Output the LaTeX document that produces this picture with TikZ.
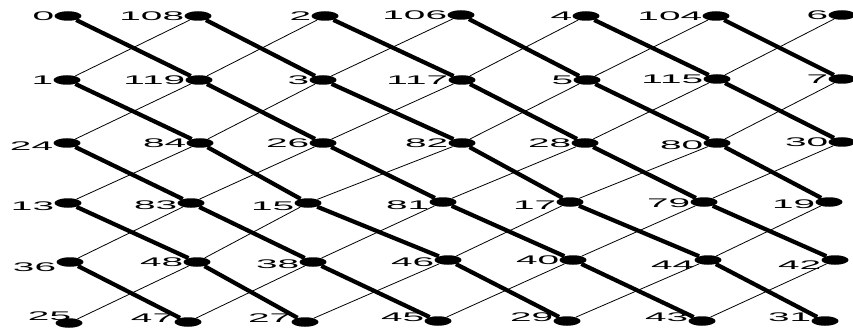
\documentclass[tikz,border=0pt]{standalone}
\usepackage{fontspec}
\usepackage{tikz}
\usetikzlibrary{shapes.geometric}
\newfontfamily\lblfont[FakeStretch=3.1]{Liberation Sans}
\tikzset{
  dot/.style      = {ellipse, fill=black, inner sep=0pt,
                     minimum width=27pt, minimum height=9.5pt, label distance=4pt},
  every label/.style = {font=\lblfont\fontsize{12.5}{13}\selectfont, inner sep=0pt},
  lowlbl/.style   = {label={[yshift=4pt]left:#1}},
  heavy/.style    = {line width=4.2pt},
  light/.style    = {line width=0.8pt}
}

\begin{document}
\begin{tikzpicture}[x=1pt,y=-1pt]
\useasboundingbox (0,0) rectangle (853,331);

% --- row 0 ---------------------------------------------------------------
\node[dot, label=left:0]   (n0)   at (68,16)  {};
\node[dot, label=left:108] (n108) at (198,16) {};
\node[dot, label=left:2]   (n2)   at (325,16) {};
\node[dot, label=left:106] (n106) at (461,15) {};
\node[dot, label=left:4]   (n4)   at (586,16) {};
\node[dot, label=left:104] (n104) at (716,16) {};
\node[dot, label=left:6]   (n6)   at (842,15) {};

% --- row 1 ---------------------------------------------------------------
\node[dot, label=left:1]   (n1)   at (67,80)  {};
\node[dot, label=left:119] (n119) at (199,80) {};
\node[dot, label=left:3]   (n3)   at (323,80) {};
\node[dot, label=left:117] (n117) at (462,80) {};
\node[dot, label=left:5]   (n5)   at (587,80) {};
\node[dot, label=left:115] (n115) at (717,79) {};
\node[dot, label=left:7]   (n7)   at (842,79) {};

% --- row 2 ---------------------------------------------------------------
\node[dot, label={[yshift=-3pt]left:24}] (n24) at (67,143) {};
\node[dot, label=left:84]  (n84)  at (200,143) {};
\node[dot, label=left:26]  (n26)  at (323,143) {};
\node[dot, label=left:82]  (n82)  at (462,143) {};
\node[dot, label=left:28]  (n28)  at (585,143) {};
\node[dot, label={[yshift=-2pt]left:80}] (n80) at (717,143) {};
\node[dot, label=left:30]  (n30)  at (842,142) {};

% --- row 3 ---------------------------------------------------------------
\node[dot, label={[yshift=-3pt]left:13}] (n13) at (68,203)  {};
\node[dot, label={[yshift=-2pt]left:83}] (n83) at (191,203) {};
\node[dot, label={[yshift=-3pt]left:15}] (n15) at (308,203) {};
\node[dot, label={[yshift=-3pt]left:81}] (n81) at (443,202) {};
\node[dot, label={[yshift=-3pt]left:17}] (n17) at (570,202) {};
\node[dot, label={[yshift=-1pt]left:79}] (n79) at (704,202) {};
\node[dot, label={[yshift=-2pt]left:19}] (n19) at (829,202) {};

% --- row 4 ---------------------------------------------------------------
\node[dot, label={[yshift=-5pt]left:36}] (n36) at (70,262)  {};
\node[dot, label=left:48]  (n48)  at (197,262) {};
\node[dot, label={[yshift=-2pt]left:38}] (n38) at (313,262) {};
\node[dot, label={[yshift=-2pt]left:46}] (n46) at (448,260) {};
\node[dot, label=left:40]  (n40)  at (573,260) {};
\node[dot, label={[yshift=-5pt]left:44}] (n44) at (708,260) {};
\node[dot, label={[yshift=-5pt]left:42}] (n42) at (835,260) {};

% --- row 5 ---------------------------------------------------------------
\node[dot, label={[xshift=16pt,yshift=7pt]left:25}] (n25) at (69,323) {};
\node[dot, lowlbl=47] (n47) at (188,322) {};
\node[dot, lowlbl=27] (n27) at (305,322) {};
\node[dot, lowlbl=45] (n45) at (438,321) {};
\node[dot, lowlbl=29] (n29) at (567,321) {};
\node[dot, lowlbl=43] (n43) at (702,321) {};
\node[dot, lowlbl=31] (n31) at (825,321) {};

% --- heavy diagonals, falling to the right --------------------------------
\draw[heavy] (n0) -- (n119) -- (n26) -- (n81) -- (n40) -- (n43);
\draw[heavy] (n108) -- (n3) -- (n82) -- (n17) -- (n44) -- (n31);
\draw[heavy] (n2) -- (n117) -- (n28) -- (n79) -- (n42);
\draw[heavy] (n106) -- (n5) -- (n80) -- (n19);
\draw[heavy] (n4) -- (n115) -- (n30);
\draw[heavy] (n104) -- (n7);
\draw[heavy] (n1) -- (n84) -- (n15) -- (n46) -- (n29);
\draw[heavy] (n24) -- (n83) -- (n38) -- (n45);
\draw[heavy] (n13) -- (n48) -- (n27);
\draw[heavy] (n36) -- (n47);

% --- light diagonals, rising to the right ---------------------------------
\draw[light] (n1) -- (n108);
\draw[light] (n24) -- (n119) -- (n2);
\draw[light] (n13) -- (n84) -- (n3) -- (n106);
\draw[light] (n36) -- (n83) -- (n26) -- (n117) -- (n4);
\draw[light] (n25) -- (n48) -- (n15) -- (n82) -- (n5) -- (n104);
\draw[light] (n47) -- (n38) -- (n81) -- (n28) -- (n115) -- (n6);
\draw[light] (n27) -- (n46) -- (n17) -- (n80) -- (n7);
\draw[light] (n45) -- (n40) -- (n79) -- (n30);
\draw[light] (n29) -- (n44) -- (n19);
\draw[light] (n43) -- (n42);

\end{tikzpicture}
\end{document}
